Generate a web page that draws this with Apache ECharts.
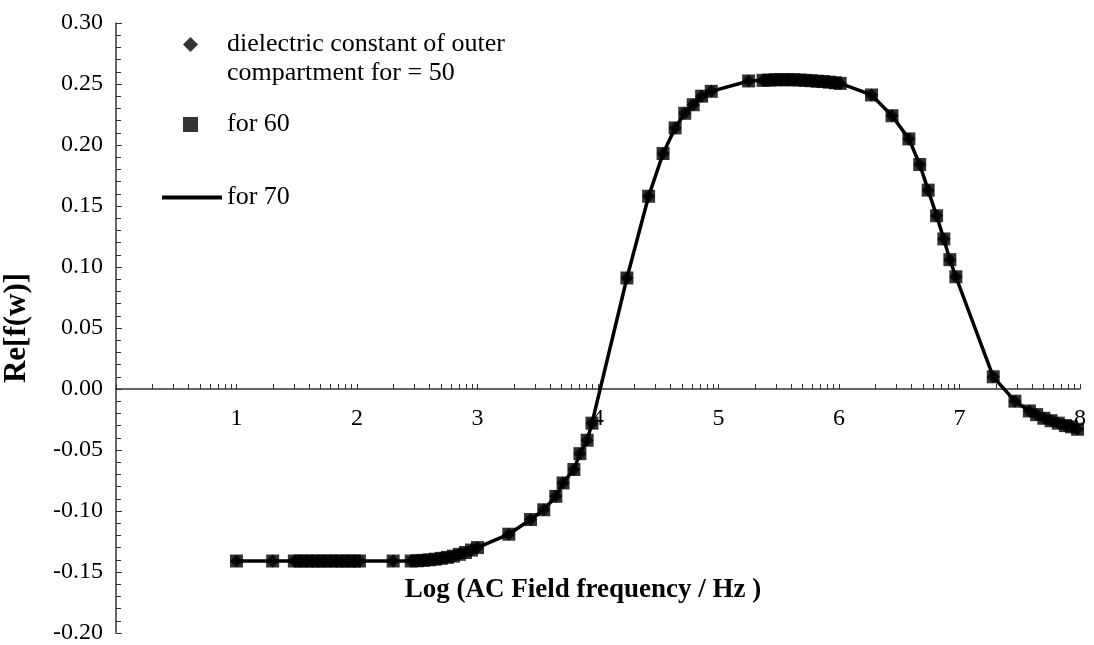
<!DOCTYPE html>
<html>
<head>
<meta charset="utf-8">
<script src="https://cdn.jsdelivr.net/npm/echarts@6/dist/echarts.min.js"></script>
<style>
  html, body { margin: 0; padding: 0; background: #fff; }
  #main { width: 1094px; height: 645px; }
</style>
</head>
<body>
<div id="main"></div>
<script>
// log10 of the AC field frequency (Hz)
var logF = [
  1.00, 1.30, 1.48, 1.53, 1.58, 1.63, 1.68, 1.73, 1.78, 1.83, 1.88, 1.93, 1.98, 2.02,
  2.30, 2.45, 2.50, 2.55, 2.60, 2.65, 2.70, 2.75, 2.80, 2.85, 2.90, 2.95, 3.00,
  3.26, 3.44, 3.55, 3.65, 3.71, 3.80, 3.85, 3.91, 3.95,
  4.24, 4.42, 4.54, 4.64, 4.72, 4.79, 4.86, 4.94,
  5.25, 5.37, 5.42, 5.47, 5.52, 5.57, 5.62, 5.67, 5.72, 5.77, 5.82, 5.87, 5.92, 5.97, 6.01,
  6.27, 6.44, 6.58, 6.67, 6.74, 6.81, 6.87, 6.92, 6.97,
  7.28, 7.46, 7.58, 7.64, 7.70, 7.76, 7.82, 7.88, 7.93, 7.98
];
// Re[f(w)]; the three curves lie on top of each other
var reF = [
  -0.141, -0.141, -0.141, -0.141, -0.141, -0.141, -0.141, -0.141, -0.141, -0.141, -0.141, -0.141, -0.141, -0.141,
  -0.141, -0.141, -0.1408, -0.1405, -0.140, -0.1395, -0.1388, -0.138, -0.137, -0.1355, -0.134, -0.132, -0.130,
  -0.119, -0.107, -0.099, -0.088, -0.077, -0.066, -0.053, -0.042, -0.028,
  0.091, 0.158, 0.193, 0.214, 0.226, 0.233, 0.240, 0.244,
  0.2525, 0.253, 0.2532, 0.2535, 0.2535, 0.2535, 0.2535, 0.2533, 0.253, 0.2527, 0.2523, 0.252, 0.2515, 0.251, 0.2505,
  0.241, 0.224, 0.205, 0.184, 0.163, 0.142, 0.123, 0.106, 0.092,
  0.010, -0.010, -0.018, -0.021, -0.024, -0.026, -0.028, -0.030, -0.031, -0.033
];
var names = ['dielectric constant of outer\ncompartment for = 50', 'for 60', 'for 70'];

// log-style minor ticks along the frequency axis
var xTicks = [];
for (var d = 0; d < 8; d++) {
  for (var k = 1; k <= 9; k++) xTicks.push(d + Math.log10(k));
}
xTicks.push(8);

var pts = logF.map(function (x, i) { return [x, reF[i]]; });

var font = "'Liberation Serif', 'Times New Roman', serif";
var legendText = { fontFamily: font, fontSize: 26, color: '#000', lineHeight: 29, padding: [0, 0, 0, 24] };

// grid: top 23, bottom 12 -> y=0 sits 244px above the bottom edge
var gridTop = 23, gridBottom = 12;
var zeroOffset = -(645 - gridTop - gridBottom) * 0.2 / 0.5;

var chart = echarts.init(document.getElementById('main'));
chart.setOption({
  animation: false,
  backgroundColor: '#fff',
  textStyle: { fontFamily: font, color: '#000' },
  grid: { left: 116, right: 14, top: gridTop, bottom: gridBottom, containLabel: false, outerBoundsMode: 'none' },
  legend: [
    {
      data: [{ name: names[0], icon: 'diamond' }],
      left: 183, top: 1, padding: 0,
      itemWidth: 15, itemHeight: 15, selectedMode: false,
      // blank first line so the marker sits beside the first text line
      formatter: function (n) { return '\u00a0\n' + n; },
      textStyle: legendText
    },
    {
      data: [{ name: names[1], icon: 'rect' }],
      left: 183, top: 110, padding: 0,
      itemWidth: 15, itemHeight: 15, selectedMode: false,
      textStyle: legendText
    },
    {
      data: [{ name: names[2], icon: 'rect' }],
      left: 162, top: 183, padding: 0,
      itemWidth: 60, itemHeight: 4, selectedMode: false,
      textStyle: Object.assign({}, legendText, { padding: 0 })
    }
  ],
  xAxis: {
    type: 'value',
    min: 0, max: 8, interval: 1,
    offset: zeroOffset,
    name: 'Log (AC Field frequency / Hz )',
    nameLocation: 'middle',
    nameGap: 188,
    nameTextStyle: { fontFamily: font, fontSize: 27, fontWeight: 'bold', color: '#000', padding: [0, 30, 0, 0] },
    axisLine: { onZero: false, lineStyle: { color: '#333', width: 1.5 } },
    axisTick: { show: true, inside: true, length: 5, customValues: xTicks, lineStyle: { color: '#333' } },
    axisLabel: {
      margin: 18, fontFamily: font, fontSize: 24, color: '#000',
      formatter: function (v) { return v === 0 ? '' : String(v); }
    },
    splitLine: { show: false }
  },
  yAxis: {
    type: 'value',
    min: -0.2, max: 0.3, interval: 0.05,
    name: 'Re[f(w)]',
    nameLocation: 'middle',
    nameGap: 84,
    nameTextStyle: { fontFamily: font, fontSize: 31, fontWeight: 'bold', color: '#000' },
    axisLine: { show: true, onZero: false, lineStyle: { color: '#333', width: 1.5 } },
    axisTick: { show: true, inside: true, length: 6, lineStyle: { color: '#333' } },
    minorTick: { show: true, splitNumber: 5, length: 5, lineStyle: { color: '#333' } },
    axisLabel: {
      margin: 13, fontFamily: font, fontSize: 24, color: '#000',
      formatter: function (v) { return v.toFixed(2); }
    },
    splitLine: { show: false }
  },
  series: [
    {
      name: names[0], type: 'scatter', data: pts,
      symbol: 'diamond', symbolSize: 13, z: 1,
      itemStyle: { color: '#000' }
    },
    {
      name: names[2], type: 'line', data: pts,
      showSymbol: false, z: 2,
      lineStyle: { color: '#000', width: 3.5 },
      itemStyle: { color: '#000' }
    },
    {
      name: names[1], type: 'scatter', data: pts,
      symbol: 'rect', symbolSize: 13, z: 3,
      itemStyle: { color: '#000' }
    }
  ]
});
</script>
</body>
</html>
